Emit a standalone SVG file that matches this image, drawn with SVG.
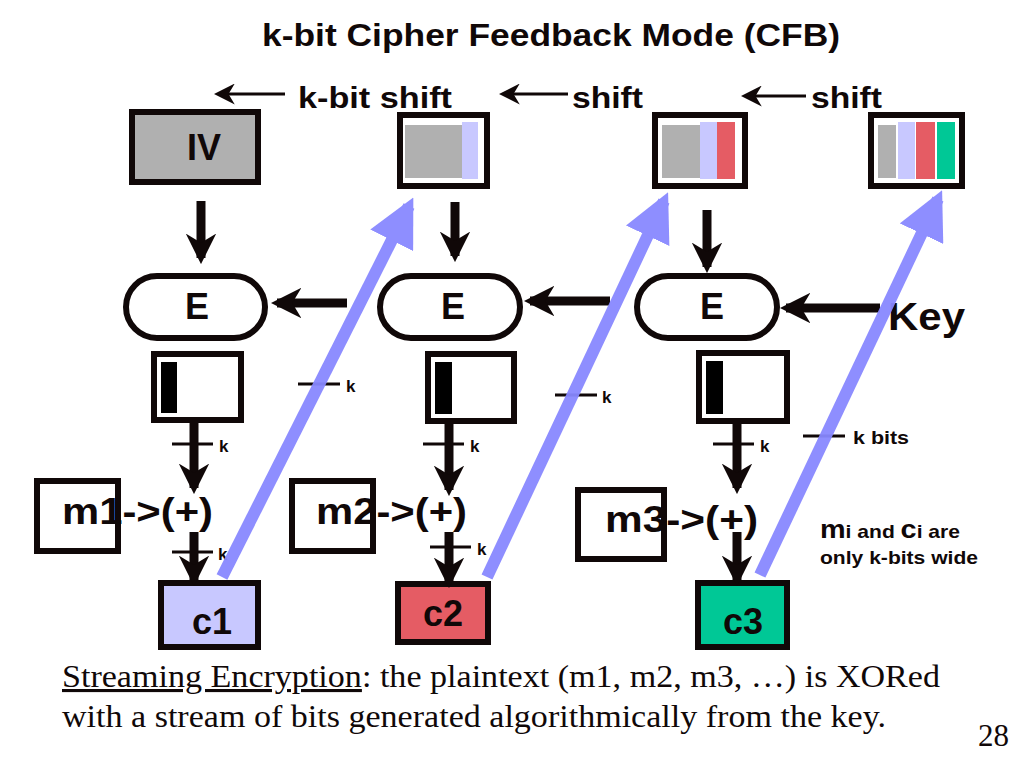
<svg xmlns="http://www.w3.org/2000/svg" width="1024" height="768" viewBox="0 0 1024 768">
<defs>
<style>
.s{font-family:"Liberation Sans",Arial,sans-serif;font-weight:bold;fill:#100808}
.t{font-family:"Liberation Serif","Times New Roman",serif;font-size:31px;fill:#100808}
.bx{stroke:#100808;stroke-width:6}
.ar{stroke:#100808;stroke-width:9;fill:none}
.tk{stroke:#100808;stroke-width:3}
.bl{stroke:#8888ff;stroke-width:12;fill:none;opacity:0.95}
</style>
<marker id="h" viewBox="0 0 10 10" refX="8" refY="5" markerWidth="3.4" markerHeight="3.4" orient="auto" markerUnits="strokeWidth"><path d="M0,0L10,5L0,10L3,5z" fill="#100808"/></marker>
<marker id="ht" viewBox="0 0 10 10" refX="8" refY="5" markerWidth="7" markerHeight="7" orient="auto" markerUnits="strokeWidth"><path d="M0,0L10,5L0,10L3,5z" fill="#100808"/></marker>
<marker id="hb" viewBox="0 0 10 10" refX="8" refY="5" markerWidth="4" markerHeight="4" orient="auto" markerUnits="strokeWidth"><path d="M0,0L10,5L0,10z" fill="#8888ff"/></marker>
</defs>
<rect width="1024" height="768" fill="#fff"/>
<text class="s" x="262" y="46" font-size="32" textLength="578" lengthAdjust="spacingAndGlyphs">k-bit Cipher Feedback Mode (CFB)</text>
<text class="s" x="298" y="108" font-size="30" textLength="154" lengthAdjust="spacingAndGlyphs">k-bit shift</text>
<text class="s" x="572" y="108" font-size="30" textLength="71" lengthAdjust="spacingAndGlyphs">shift</text>
<text class="s" x="811" y="108" font-size="30" textLength="71" lengthAdjust="spacingAndGlyphs">shift</text>
<g id="nodes">
<g id="iv"><rect class="bx" x="132" y="112" width="126" height="70" fill="#b0b0b0"/><text class="s" x="204" y="160" font-size="36" text-anchor="middle">IV</text></g>
<g id="reg2"><rect class="bx" x="400" y="115" width="87" height="71" fill="#fff"/><rect x="405" y="125" width="57" height="53" fill="#b0b0b0"/><rect x="462" y="122" width="16" height="57" fill="#c8c8ff"/></g>
<g id="reg3"><rect class="bx" x="655" y="115" width="90" height="71" fill="#fff"/><rect x="662" y="125" width="38" height="53" fill="#b0b0b0"/><rect x="700" y="122" width="17" height="57" fill="#c8c8ff"/><rect x="717" y="122" width="18" height="57" fill="#e55c64"/></g>
<g id="reg4"><rect class="bx" x="871" y="115" width="91" height="71" fill="#fff"/><rect x="878" y="125" width="18" height="53" fill="#b0b0b0"/><rect x="898" y="122" width="17" height="57" fill="#c8c8ff"/><rect x="916" y="122" width="19" height="57" fill="#e55c64"/><rect x="937" y="122" width="18" height="57" fill="#00c896"/></g>
<g id="e1"><rect class="bx" x="126" y="276" width="139" height="62" rx="31" fill="#fff" stroke-width="5"/><text class="s" x="197" y="319" font-size="36" text-anchor="middle">E</text></g>
<g id="e2"><rect class="bx" x="380" y="276" width="140" height="62" rx="31" fill="#fff" stroke-width="5"/><text class="s" x="453" y="319" font-size="36" text-anchor="middle">E</text></g>
<g id="e3"><rect class="bx" x="637" y="276" width="140" height="62" rx="31" fill="#fff" stroke-width="5"/><text class="s" x="712" y="319" font-size="36" text-anchor="middle">E</text></g>
<g id="key"><text class="s" x="888" y="330" font-size="38" textLength="77" lengthAdjust="spacingAndGlyphs">Key</text></g>
<g id="o1"><rect class="bx" x="154" y="354" width="87" height="66" fill="#fff"/><rect x="160" y="361" width="18" height="53" fill="#000" stroke="#fff" stroke-width="2"/></g>
<g id="o2"><rect class="bx" x="428" y="354" width="86" height="67" fill="#fff"/><rect x="434" y="361" width="19" height="54" fill="#000" stroke="#fff" stroke-width="2"/></g>
<g id="o3"><rect class="bx" x="699" y="353" width="88" height="68" fill="#fff"/><rect x="705" y="360" width="19" height="55" fill="#000" stroke="#fff" stroke-width="2"/></g>
<g id="m1"><rect class="bx" x="37" y="481" width="81" height="70" fill="#fff"/></g>
<g id="m2"><rect class="bx" x="292" y="481" width="81" height="70" fill="#fff"/></g>
<g id="m3"><rect class="bx" x="578" y="490" width="86" height="69" fill="#fff"/></g>
<g id="c1"><rect class="bx" x="161" y="583" width="97" height="64" fill="#c8c8ff"/><text class="s" x="212" y="634" font-size="36" text-anchor="middle">c1</text></g>
<g id="c2"><rect class="bx" x="398" y="584" width="90" height="58" fill="#e55c64"/><text class="s" x="443" y="626" font-size="36" text-anchor="middle">c2</text></g>
<g id="c3"><rect class="bx" x="698" y="583" width="89" height="64" fill="#00c896"/><text class="s" x="743" y="634" font-size="36" text-anchor="middle">c3</text></g>
</g>
<text class="s" x="62" y="524" font-size="36" textLength="151" lengthAdjust="spacingAndGlyphs">m1-&gt;(+)</text>
<text class="s" x="316" y="524" font-size="36" textLength="151" lengthAdjust="spacingAndGlyphs">m2-&gt;(+)</text>
<text class="s" x="605" y="532" font-size="36" textLength="153" lengthAdjust="spacingAndGlyphs">m3-&gt;(+)</text>
<g id="connectors">
<line class="tk" x1="285" y1="94" x2="218" y2="94" stroke-width="5" marker-end="url(#ht)"/>
<line class="tk" x1="568" y1="94" x2="503" y2="94" stroke-width="5" marker-end="url(#ht)"/>
<line class="tk" x1="806" y1="96" x2="745" y2="96" stroke-width="5" marker-end="url(#ht)"/>
<line class="ar" x1="201" y1="201" x2="201" y2="258" marker-end="url(#h)"/>
<line class="ar" x1="455" y1="202" x2="455" y2="256" marker-end="url(#h)"/>
<line class="ar" x1="707" y1="210" x2="707" y2="267" marker-end="url(#h)"/>
<line class="ar" x1="347" y1="303" x2="277" y2="303" stroke-width="11" marker-end="url(#h)"/>
<line class="ar" x1="610" y1="301" x2="530" y2="301" stroke-width="11" marker-end="url(#h)"/>
<line class="ar" x1="880" y1="308" x2="786" y2="308" stroke-width="11" marker-end="url(#h)"/>
<line class="ar" x1="194" y1="420" x2="194" y2="488" marker-end="url(#h)"/>
<line class="ar" x1="449" y1="421" x2="449" y2="490" marker-end="url(#h)"/>
<line class="ar" x1="737" y1="421" x2="737" y2="488" marker-end="url(#h)"/>
<line class="ar" x1="194" y1="532" x2="194" y2="580" marker-end="url(#h)"/>
<line class="ar" x1="449" y1="532" x2="449" y2="582" marker-end="url(#h)"/>
<line class="ar" x1="737" y1="532" x2="737" y2="580" marker-end="url(#h)"/>
<line class="tk" x1="172" y1="444" x2="213" y2="444"/><text class="s" x="219" y="452" font-size="17">k</text>
<line class="tk" x1="423" y1="444" x2="464" y2="444"/><text class="s" x="470" y="452" font-size="17">k</text>
<line class="tk" x1="713" y1="444" x2="754" y2="444"/><text class="s" x="760" y="452" font-size="17">k</text>
<line class="tk" x1="172" y1="552" x2="213" y2="552"/><text class="s" x="218" y="560" font-size="17">k</text>
<line class="tk" x1="430" y1="547" x2="471" y2="547"/><text class="s" x="477" y="555" font-size="17">k</text>
<line class="tk" x1="298" y1="384" x2="340" y2="384"/><text class="s" x="346" y="392" font-size="17">k</text>
<line class="tk" x1="555" y1="395" x2="597" y2="395"/><text class="s" x="602" y="403" font-size="17">k</text>
<line class="tk" x1="803" y1="436" x2="845" y2="436"/><text class="s" x="853" y="444" font-size="19" textLength="56" lengthAdjust="spacingAndGlyphs">k bits</text>
<line class="bl" x1="222" y1="577" x2="409" y2="206" marker-end="url(#hb)"/>
<line class="bl" x1="487" y1="577" x2="664" y2="201" marker-end="url(#hb)"/>
<line class="bl" x1="760" y1="575" x2="938" y2="199" marker-end="url(#hb)"/>
</g>
<text class="s" x="820" y="538" font-size="19" textLength="140" lengthAdjust="spacingAndGlyphs"><tspan font-size="26">m</tspan>i and <tspan font-size="26">c</tspan>i are</text>
<text class="s" x="820" y="564" font-size="19" textLength="158" lengthAdjust="spacingAndGlyphs">only k-bits wide</text>
<text class="t" x="62" y="687" textLength="878" lengthAdjust="spacingAndGlyphs"><tspan text-decoration="underline">Streaming Encryption</tspan>: the plaintext (m1, m2, m3, …) is XORed</text>
<text class="t" x="62" y="727" textLength="824" lengthAdjust="spacingAndGlyphs">with a stream of bits generated algorithmically from the key.</text>
<text class="t" x="978" y="746">28</text>
</svg>
